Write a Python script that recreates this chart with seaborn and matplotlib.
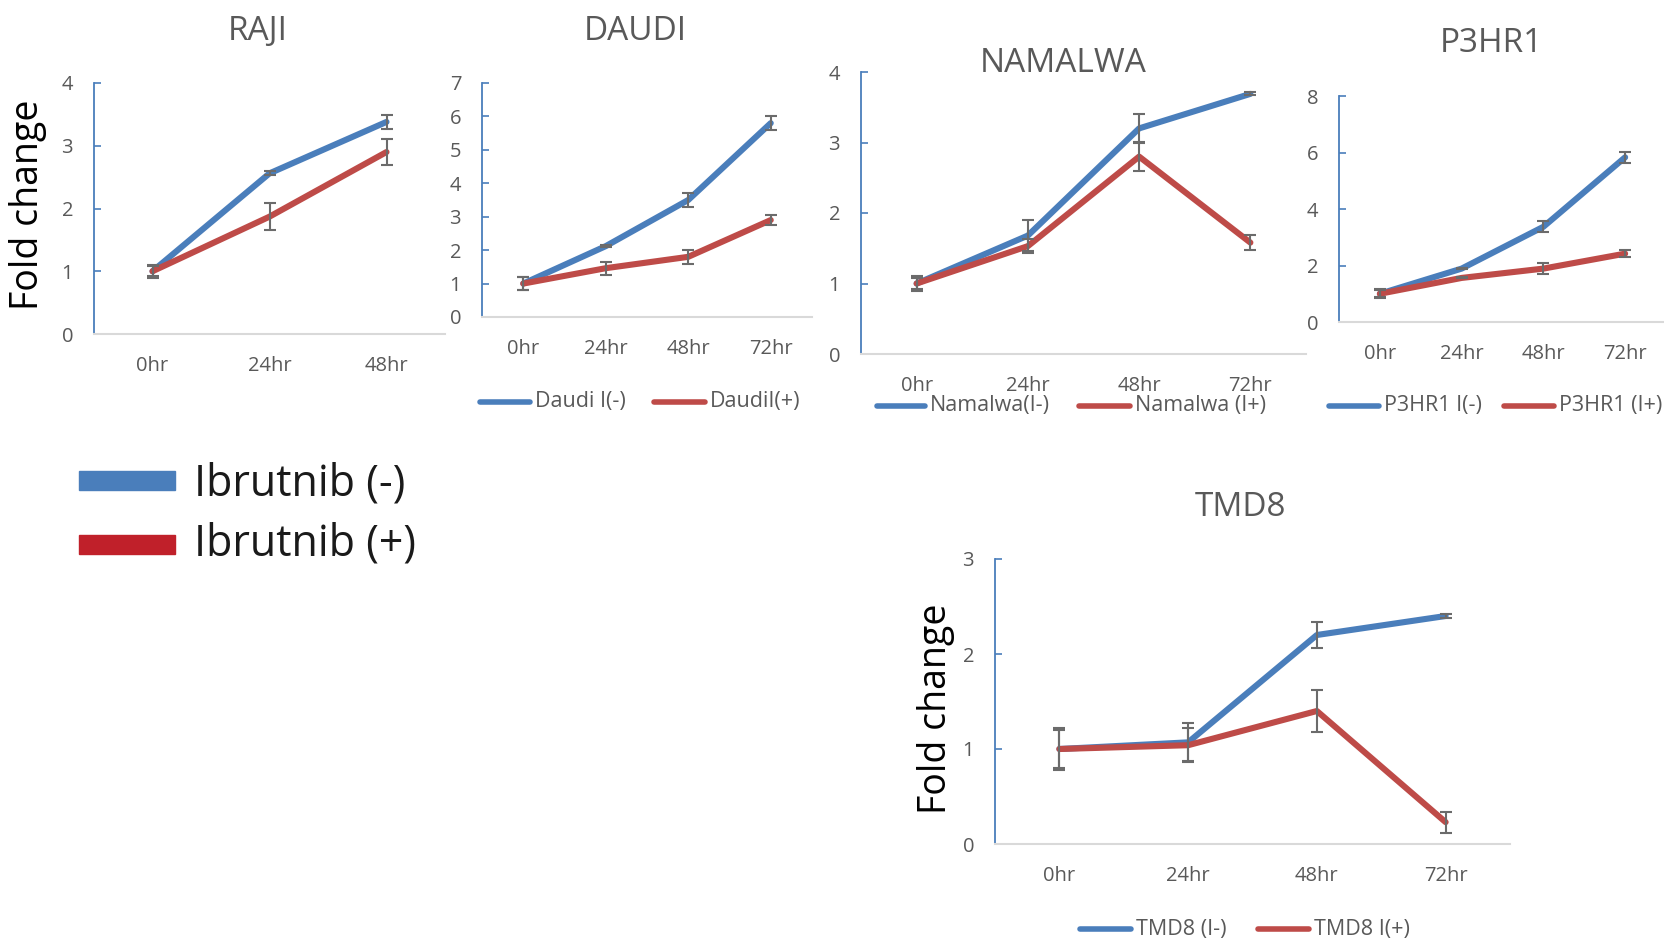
import pandas as pd
import matplotlib
matplotlib.use("Agg")
import matplotlib.pyplot as plt
from matplotlib.lines import Line2D
from matplotlib.patches import Rectangle
import seaborn as sns

# ── Data (fold change, mean ± error) ─────────────────────────────────────────
TIMES3 = ["0hr", "24hr", "48hr"]
TIMES4 = ["0hr", "24hr", "48hr", "72hr"]

RAJI_NEG = [1.0, 2.56, 3.38]
RAJI_NEG_ERR = [0.1, 0.03, 0.11]
RAJI_POS = [1.0, 1.87, 2.9]
RAJI_POS_ERR = [0.08, 0.22, 0.21]

DAUDI_NEG = [1.0, 2.12, 3.5, 5.8]
DAUDI_NEG_ERR = [0.2, 0.03, 0.2, 0.2]
DAUDI_POS = [1.0, 1.46, 1.8, 2.9]
DAUDI_POS_ERR = [0.2, 0.2, 0.2, 0.14]

NAMALWA_NEG = [1.0, 1.68, 3.2, 3.69]
NAMALWA_NEG_ERR = [0.1, 0.22, 0.21, 0.02]
NAMALWA_POS = [1.0, 1.53, 2.8, 1.58]
NAMALWA_POS_ERR = [0.08, 0.1, 0.21, 0.11]

P3HR1_NEG = [1.0, 1.89, 3.37, 5.83]
P3HR1_NEG_ERR = [0.16, 0.03, 0.2, 0.2]
P3HR1_POS = [1.0, 1.56, 1.89, 2.42]
P3HR1_POS_ERR = [0.12, 0.02, 0.2, 0.12]

TMD8_NEG = [1.0, 1.07, 2.2, 2.4]
TMD8_NEG_ERR = [0.22, 0.2, 0.14, 0.02]
TMD8_POS = [1.0, 1.04, 1.4, 0.23]
TMD8_POS_ERR = [0.2, 0.18, 0.22, 0.11]

BLUE = "#4a7ebb"
RED = "#be4b48"
GRAY = "#595959"

W, H = 1665, 943

sns.set_theme(style="white")
plt.rcParams["font.family"] = ["Open Sans", "DejaVu Sans"]

fig = plt.figure(figsize=(W / 100, H / 100), dpi=100)


def fx(x):
    return x / W


def fy(y):
    return 1 - y / H


def panel(box, times, neg, neg_err, pos, pos_err, ymax, ystep):
    left, right, top, bottom = box
    ax = fig.add_axes([fx(left), fy(bottom), (right - left) / W, (bottom - top) / H])
    df = pd.DataFrame({
        "time": times * 2,
        "fold": neg + pos,
        "series": ["neg"] * len(times) + ["pos"] * len(times),
    })
    sns.lineplot(data=df, x="time", y="fold", hue="series", hue_order=["neg", "pos"],
                 palette=[BLUE, RED], lw=4.4, sort=False, legend=False, ax=ax,
                 solid_capstyle="round")
    for vals, errs in [(neg, neg_err), (pos, pos_err)]:
        ax.errorbar(times, vals, yerr=errs, fmt="none", ecolor="#6b6b6b",
                    elinewidth=1.5, capsize=4.5, capthick=1.5, zorder=5)
    ax.set_xlim(-0.5, len(times) - 0.5)
    ax.set_ylim(0, ymax)
    ax.set_yticks(range(0, ymax + 1, ystep))
    ax.set_xlabel("")
    ax.set_ylabel("")
    for s in ["top", "right"]:
        ax.spines[s].set_visible(False)
    ax.spines["left"].set_color(BLUE)
    ax.spines["left"].set_linewidth(1.3)
    ax.spines["bottom"].set_color("#d9d9d9")
    ax.spines["bottom"].set_linewidth(1.5)
    ax.tick_params(axis="y", direction="in", length=5, width=1.2, color=BLUE,
                   left=True, pad=15, labelsize=14.5, labelcolor=GRAY)
    ax.tick_params(axis="x", length=0, pad=16, labelsize=14.5, labelcolor=GRAY)
    ax.patch.set_alpha(0)
    return ax


def key(x0, x1, y, color, label, size=15.5):
    fig.add_artist(Line2D([fx(x0), fx(x1)], [fy(y), fy(y)], color=color, lw=4,
                          solid_capstyle="round", transform=fig.transFigure))
    fig.text(fx(x1 + 5), fy(y), label, color=GRAY, fontsize=size,
             va="center", ha="left")


def title(x, y, text):
    fig.text(fx(x), fy(y), text, color=GRAY, fontsize=24, ha="center", va="center")


# ── Panels ───────────────────────────────────────────────────────────────────
panel((94, 445, 83, 334), TIMES3, RAJI_NEG, RAJI_NEG_ERR, RAJI_POS, RAJI_POS_ERR, 4, 1)
panel((482, 812, 83, 317), TIMES4, DAUDI_NEG, DAUDI_NEG_ERR, DAUDI_POS, DAUDI_POS_ERR, 7, 1)
panel((861, 1306, 72, 354), TIMES4, NAMALWA_NEG, NAMALWA_NEG_ERR, NAMALWA_POS, NAMALWA_POS_ERR, 4, 1)
panel((1339, 1666, 96, 322), TIMES4, P3HR1_NEG, P3HR1_NEG_ERR, P3HR1_POS, P3HR1_POS_ERR, 8, 2)
panel((995, 1510, 559, 844), TIMES4, TMD8_NEG, TMD8_NEG_ERR, TMD8_POS, TMD8_POS_ERR, 3, 1)

title(258, 31, "RAJI")
title(635, 31, "DAUDI")
title(1063, 63, "NAMALWA")
title(1491, 43, "P3HR1")
title(1241, 507, "TMD8")

fig.text(fx(28), fy(205), "Fold change", fontsize=27, color="black",
         rotation=90, ha="center", va="center")
fig.text(fx(936), fy(709), "Fold change", fontsize=27, color="black",
         rotation=90, ha="center", va="center")

# ── Legends ──────────────────────────────────────────────────────────────────
key(480, 530, 402, BLUE, "Daudi I(-)")
key(654, 705, 402, RED, "DaudiI(+)")
key(877, 925, 406, BLUE, "Namalwa(I-)")
key(1079, 1130, 406, RED, "Namalwa (I+)")
key(1329, 1379, 406, BLUE, "P3HR1 I(-)")
key(1504, 1554, 406, RED, "P3HR1 (I+)")
key(1080, 1131, 929, BLUE, "TMD8 (I-)")
key(1258, 1309, 929, RED, "TMD8 I(+)")

fig.add_artist(Rectangle((fx(79), fy(490)), 96 / W, 19 / H, color="#4a7ebb",
                         transform=fig.transFigure))
fig.add_artist(Rectangle((fx(79), fy(554)), 96 / W, 19 / H, color="#c0202a",
                         transform=fig.transFigure))
fig.text(fx(194), fy(484), "Ibrutnib (-)", fontsize=31, color="#1a1a1a", va="center")
fig.text(fx(194), fy(544), "Ibrutnib (+)", fontsize=31, color="#1a1a1a", va="center")

fig.savefig("out.png", dpi=100)
